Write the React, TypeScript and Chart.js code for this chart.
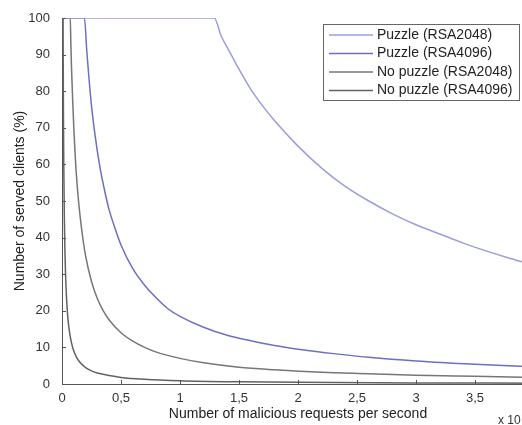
import React, { useEffect, useRef } from "react";
import { Chart, registerables } from "chart.js";

Chart.register(...registerables);

// ---- data (x in units of 10^4 requests / s, y in % served clients) ----
const seriesLabels = [
  "Puzzle (RSA2048)",
  "Puzzle (RSA4096)",
  "No puzzle (RSA2048)",
  "No puzzle (RSA4096)",
];

const puzzle2048X = [0, 1.29, 1.35, 1.4, 1.5, 1.6, 1.7, 1.8, 2.0, 2.2, 2.4, 2.6, 2.8, 3.0, 3.2, 3.4, 3.6, 3.8, 4.0];
const puzzle2048Y = [100, 100, 95, 92, 86, 80.5, 76, 72, 65, 59, 54, 50, 46.5, 43.5, 41, 38.5, 36.3, 34.3, 32.5];

const puzzle4096X = [0, 0.19, 0.21, 0.23, 0.25, 0.28, 0.32, 0.36, 0.4, 0.45, 0.5, 0.6, 0.7, 0.8, 0.9, 1.0, 1.2, 1.4, 1.6, 1.8, 2.0, 2.3, 2.6, 3.0, 3.5, 4.0];
const puzzle4096Y = [100, 100, 91, 83, 76, 68, 59.5, 53, 47.5, 42.5, 38, 31.5, 27, 23.5, 20.5, 18.5, 15.5, 13.3, 11.8, 10.5, 9.5, 8.3, 7.3, 6.3, 5.4, 4.7];

const noPuzzle2048X = [0, 0.07, 0.075, 0.08, 0.09, 0.1, 0.11, 0.12, 0.14, 0.16, 0.18, 0.2, 0.25, 0.3, 0.35, 0.4, 0.5, 0.6, 0.7, 0.8, 1.0, 1.2, 1.5, 1.8, 2.2, 2.6, 3.0, 3.5, 4.0];
const noPuzzle2048Y = [100, 100, 93, 87, 78, 70, 63.5, 58, 50, 44, 39, 35, 28, 23.3, 20, 17.5, 14, 11.7, 10, 8.7, 7, 5.8, 4.6, 3.9, 3.2, 2.8, 2.4, 2.1, 1.8];

const noPuzzle4096X = [0, 0.009, 0.01, 0.012, 0.015, 0.02, 0.025, 0.03, 0.04, 0.05, 0.06, 0.08, 0.1, 0.12, 0.15, 0.2, 0.25, 0.3, 0.4, 0.5, 0.7, 1.0, 1.5, 2.0, 3.0, 4.0];
const noPuzzle4096Y = [100, 100, 90, 75, 60, 45, 36, 30, 22.5, 18, 15, 11.3, 9, 7.5, 6, 4.5, 3.6, 3, 2.3, 1.8, 1.3, 0.9, 0.6, 0.45, 0.3, 0.23];

const xTitle = "Number of malicious requests per second";
const yTitle = "Number of served clients (%)";
const xMultiplier = "x 10";
const xMultiplierExp = "4";

const seriesColors = ["#9c9ce0", "#6e6ec4", "#767676", "#626262"];

const FONT = "'Liberation Sans', Arial, Helvetica, sans-serif";

function pts(xs: number[], ys: number[]) {
  return xs.map((x, i) => ({ x, y: ys[i] }));
}

const inwardTicks = {
  id: "inwardTicks",
  afterDatasetsDraw(chart: any) {
    const { ctx, chartArea, scales } = chart;
    ctx.save();
    ctx.strokeStyle = "#555";
    ctx.lineWidth = 1;
    ctx.beginPath();
    scales.x.ticks.forEach((t: any) => {
      const px = Math.round(scales.x.getPixelForValue(t.value)) + 0.5;
      ctx.moveTo(px, chartArea.bottom);
      ctx.lineTo(px, chartArea.bottom - 4);
    });
    scales.y.ticks.forEach((t: any) => {
      const py = Math.round(scales.y.getPixelForValue(t.value)) + 0.5;
      ctx.moveTo(chartArea.left, py);
      ctx.lineTo(chartArea.left + 4, py);
    });
    ctx.stroke();
    ctx.restore();
  },
};

const boxLegend = {
  id: "boxLegend",
  afterDraw(chart: any) {
    const { ctx } = chart;
    const left = 323, top = 24, w = 196, h = 76;
    ctx.save();
    ctx.fillStyle = "#fff";
    ctx.fillRect(left, top, w, h);
    ctx.strokeStyle = "#666";
    ctx.lineWidth = 1;
    ctx.strokeRect(left + 0.5, top + 0.5, w, h);
    ctx.font = `14px ${FONT}`;
    ctx.textBaseline = "middle";
    ctx.textAlign = "left";
    const rows = [35, 53.5, 72, 90.5];
    chart.data.datasets.forEach((ds: any, i: number) => {
      const y = rows[i];
      ctx.strokeStyle = ds.borderColor;
      ctx.lineWidth = 1.5;
      ctx.beginPath();
      ctx.moveTo(329, y);
      ctx.lineTo(373, y);
      ctx.stroke();
      ctx.fillStyle = "#222";
      ctx.fillText(ds.label, 377, y);
    });
    // axis multiplier
    ctx.font = `12px ${FONT}`;
    ctx.fillStyle = "#333";
    ctx.fillText(xMultiplier, 498, 421);
    const w10 = ctx.measureText(xMultiplier).width;
    ctx.font = `9px ${FONT}`;
    ctx.fillText(xMultiplierExp, 498 + w10 + 1, 415);
    ctx.restore();
  },
};

export default function App() {
  const ref = useRef<HTMLCanvasElement>(null);
  useEffect(() => {
    const canvas = ref.current!;
    const data = [
      pts(puzzle2048X, puzzle2048Y),
      pts(puzzle4096X, puzzle4096Y),
      pts(noPuzzle2048X, noPuzzle2048Y),
      pts(noPuzzle4096X, noPuzzle4096Y),
    ];
    const chart = new Chart(canvas, {
      type: "line",
      data: {
        datasets: data.map((d, i) => ({
          label: seriesLabels[i],
          data: d,
          borderColor: seriesColors[i],
          backgroundColor: seriesColors[i],
          borderWidth: 1.5,
          pointRadius: 0,
          cubicInterpolationMode: "monotone",
          fill: false,
        })),
      },
      options: {
        responsive: false,
        animation: false,
        layout: { padding: { top: 18, right: 6, left: 0, bottom: 0 } },
        plugins: {
          legend: { display: false },
          tooltip: { enabled: false },
        },
        scales: {
          x: {
            type: "linear",
            min: 0,
            max: 4,
            grid: { display: false },
            border: { display: true, color: "#555", width: 1 },
            ticks: {
              stepSize: 0.5,
              padding: -1,
              color: "#333",
              font: { family: FONT, size: 13 },
              maxRotation: 0,
              callback: (v: any) => String(v).replace(".", ","),
            },
            title: {
              display: true,
              text: xTitle,
              color: "#222",
              font: { family: FONT, size: 14 },
              padding: { top: 0, bottom: 2 },
            },
            afterFit: (s: any) => {
              s.height = 41;
            },
          },
          y: {
            type: "linear",
            min: 0,
            max: 100,
            grid: { display: false },
            border: { display: true, color: "#555", width: 1 },
            ticks: {
              stepSize: 10,
              padding: 4,
              color: "#333",
              font: { family: FONT, size: 13 },
            },
            title: {
              display: true,
              text: yTitle,
              color: "#222",
              font: { family: FONT, size: 14 },
              padding: { top: 12, bottom: 0 },
            },
            afterFit: (s: any) => {
              s.width = 62;
            },
          },
        },
      },
      plugins: [inwardTicks, boxLegend],
    });
    return () => chart.destroy();
  }, []);

  return (
    <div
      style={{
        position: "fixed",
        left: 0,
        top: 0,
        width: 522,
        height: 425,
        overflow: "hidden",
        background: "#fff",
      }}
    >
      <canvas ref={ref} width={540} height={425} style={{ display: "block" }} />
    </div>
  );
}
